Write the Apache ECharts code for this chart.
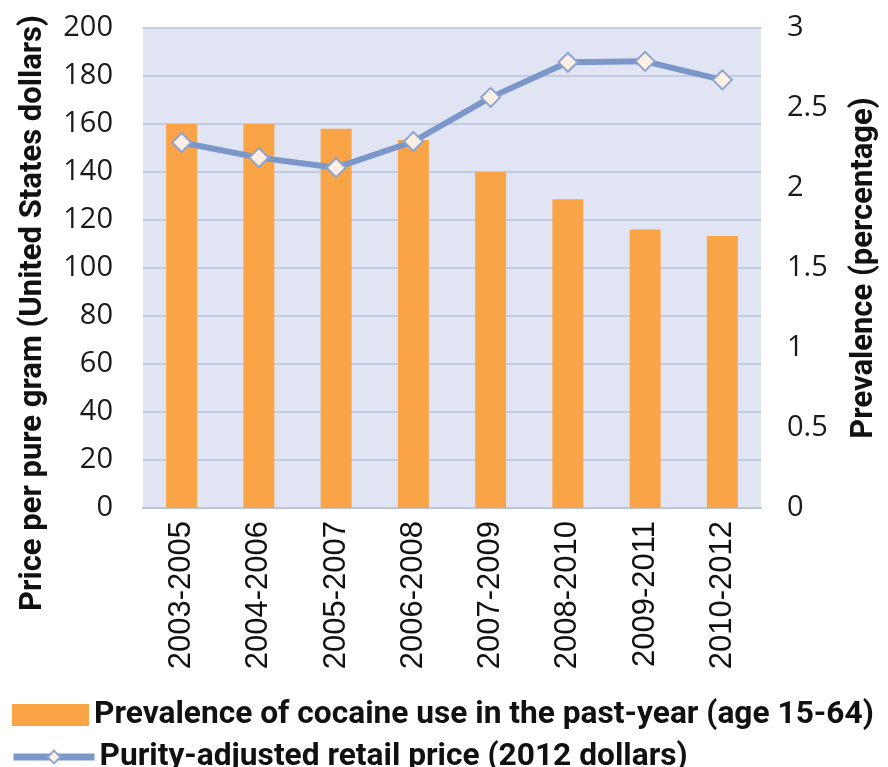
<!DOCTYPE html>
<html>
<head>
<meta charset="utf-8">
<script src="https://cdn.jsdelivr.net/npm/echarts@6/dist/echarts.min.js"></script>
<style>
html,body{margin:0;padding:0;background:#fff;}
#chart{width:888px;height:767px;}
</style>
</head>
<body>
<div id="chart"></div>
<script>
var categories = ['2003-2005','2004-2006','2005-2007','2006-2008','2007-2009','2008-2010','2009-2011','2010-2012'];
var prevalence = [2.40, 2.40, 2.37, 2.30, 2.10, 1.93, 1.74, 1.70];
var price = [152.3, 146.0, 141.8, 152.7, 171.1, 185.7, 186.1, 178.4];
var leftTicks = [0, 20, 40, 60, 80, 100, 120, 140, 160, 180, 200];
var rightTicks = [0, 0.5, 1, 1.5, 2, 2.5, 3];
var barName = 'Prevalence of cocaine use in the past-year (age 15-64)';
var lineName = 'Purity-adjusted retail price (2012 dollars)';

var legendText = {fontFamily: 'Roboto', fontWeight: 'bold', fontSize: 31.7, color: '#111'};
var chart = echarts.init(document.getElementById('chart'), null, {renderer: 'canvas'});
chart.setOption({
  animation: false,
  backgroundColor: '#ffffff',
  grid: {left: 143, right: 119, top: 28, bottom: 259, show: true, backgroundColor: '#e1e5f3', borderWidth: 0},
  legend: [
    {
      left: 7, top: 694, itemWidth: 77, itemHeight: 22, itemGap: 0,
      textStyle: legendText,
      data: [{name: barName, icon: 'rect'}]
    },
    {
      left: 5, top: 736, itemWidth: 81, itemHeight: 16, itemGap: 0,
      textStyle: legendText,
      lineStyle: {width: 7, color: '#7b97c9'},
      data: [{name: lineName}]
    }
  ],
  xAxis: {
    type: 'category', data: categories,
    axisLine: {show: true, lineStyle: {color: '#b9c4e0', width: 2}},
    axisTick: {show: false},
    axisLabel: {rotate: 90, margin: 13, fontFamily: 'Liberation Sans', fontSize: 31, color: '#111'}
  },
  yAxis: [
    {
      type: 'value', min: 0, max: 200, interval: 20, position: 'left',
      name: 'Price per pure gram (United States dollars)', nameLocation: 'middle', nameRotate: 90, nameGap: 94,
      nameTextStyle: {fontFamily: 'Roboto', fontWeight: 'bold', fontSize: 31, color: '#111', padding: [0, 90, 0, 0]},
      axisLine: {show: false}, axisTick: {show: false},
      axisLabel: {margin: 30, fontFamily: 'Open Sans', fontSize: 29, color: '#1a1a1a',
        formatter: function (v) { return leftTicks.indexOf(v) >= 0 ? String(v) : ''; }},
      splitLine: {show: true, lineStyle: {color: '#c3cbe3', width: 2}}
    },
    {
      type: 'value', min: 0, max: 3, interval: 0.5, position: 'right',
      name: 'Prevalence (percentage)', nameLocation: 'middle', nameRotate: 90, nameGap: 88,
      nameTextStyle: {fontFamily: 'Roboto', fontWeight: 'bold', fontSize: 31, color: '#111'},
      axisLine: {show: false}, axisTick: {show: false},
      axisLabel: {margin: 26, fontFamily: 'Open Sans', fontSize: 29, color: '#1a1a1a',
        formatter: function (v) { return rightTicks.indexOf(v) >= 0 ? String(v) : ''; }},
      splitLine: {show: false}
    }
  ],
  series: [
    {
      name: barName, type: 'bar', yAxisIndex: 1, data: prevalence,
      barWidth: 31, itemStyle: {color: '#f9a446'}
    },
    {
      name: lineName, type: 'line', yAxisIndex: 0, data: price,
      symbol: 'diamond', symbolSize: 19, showAllSymbol: true,
      lineStyle: {color: '#7b97c9', width: 6},
      itemStyle: {color: '#fdf0e3', borderColor: '#8ea3cf', borderWidth: 2}
    }
  ]
});
</script>
</body>
</html>
